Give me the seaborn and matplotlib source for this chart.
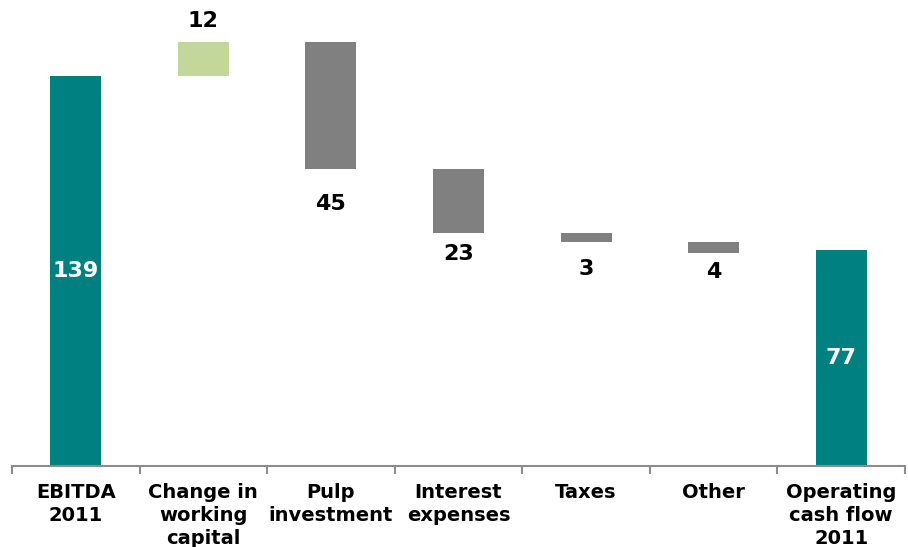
import matplotlib
matplotlib.use("Agg")
import matplotlib.pyplot as plt
import seaborn as sns
import numpy as np
import pandas as pd

categories = ["EBITDA\n2011", "Change in\nworking\ncapital", "Pulp\ninvestment",
              "Interest\nexpenses", "Taxes", "Other", "Operating\ncash flow\n2011"]
values = [139, 12, -45, -23, -3, -4, 77]
kinds = ["total", "up", "down", "down", "down", "down", "total"]
labels = ["139", "12", "45", "23", "3", "4", "77"]

colors = {"total": "#008080", "up": "#C4D79B", "down": "#808080"}
label_offsets = [0, 8, 18, 8, 12.5, 7, 0]  # points, style only

# waterfall geometry
bottoms, tops = [], []
run = 0
for v, k in zip(values, kinds):
    if k == "total":
        b, t = 0, v
        run = v
    else:
        new = run + v
        b, t = min(run, new), max(run, new)
        run = new
    bottoms.append(b)
    tops.append(t)

df = pd.DataFrame({"cat": categories, "top": tops, "bottom": bottoms,
                   "kind": kinds})
pal = [colors[k] for k in kinds]

sns.set_style("white")
plt.rcParams["font.family"] = ["DejaVu Sans"]
fig = plt.figure(figsize=(9.08, 5.47), dpi=100)
ax = fig.add_axes([12 / 908, (547 - 466) / 547, (905 - 12) / 908, 466 / 547])

sns.barplot(data=df, x="cat", y="top", hue="cat", palette=pal, saturation=1,
            width=0.4, legend=False, ax=ax, linewidth=0)
sns.barplot(data=df, x="cat", y="bottom", hue="cat",
            palette=["white"] * len(df), saturation=1, width=0.42,
            legend=False, ax=ax, linewidth=0)

ax.set_ylim(0, 466 / 2.806)
ax.set_xlim(-0.5, len(categories) - 0.5)
ax.set_xlabel("")
ax.set_ylabel("")
ax.set_yticks([])
for s in ["top", "right", "left"]:
    ax.spines[s].set_visible(False)
ax.spines["bottom"].set_color("#8c8c8c")
ax.spines["bottom"].set_linewidth(1.5)

ax.set_xticks(range(len(categories)))
ax.set_xticklabels(categories, fontsize=14, fontweight="bold",
                   linespacing=1.28, va="top", color="black")
ax.tick_params(axis="x", which="major", length=0, pad=12, bottom=True)
ax.set_xticks(np.arange(-0.5, len(categories)), minor=True)
ax.tick_params(axis="x", which="minor", length=6, width=1.5, bottom=True,
               color="#8c8c8c", direction="out")

for i, (k, v) in enumerate(zip(kinds, values)):
    if k == "total":
        ax.text(i, tops[i] / 2, labels[i], ha="center", va="center",
                color="white", fontsize=16, fontweight="bold")
    elif k == "up":
        ax.annotate(labels[i], (i, tops[i]), xytext=(0, label_offsets[i]),
                    textcoords="offset points", ha="center", va="bottom",
                    fontsize=16, fontweight="bold", color="black")
    else:
        ax.annotate(labels[i], (i, bottoms[i]), xytext=(0, -label_offsets[i]),
                    textcoords="offset points", ha="center", va="top",
                    fontsize=16, fontweight="bold", color="black")

fig.savefig("out.png", dpi=100)
